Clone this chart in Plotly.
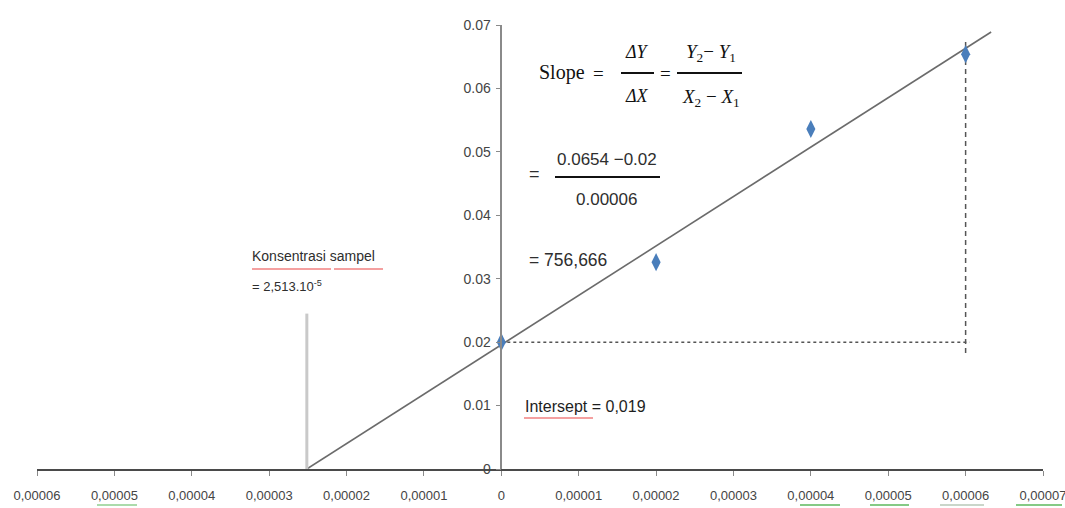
import plotly.graph_objects as go

# Calibration standards (concentration vs absorbance)
conc = [0.0, 0.00002, 0.00004, 0.00006]
absorb = [0.0200, 0.0326, 0.0536, 0.0654]

# Regression line, from the x-intercept (sample concentration) to the top right
fit_x = [-0.00002513, 0.0000633]
fit_y = [0.0, 0.0689]

# Sample concentration marker and guide levels
sample_conc = -0.00002513
sample_marker_top = 0.0245
guide_y_top = 0.0677
guide_y_bottom = 0.0183
guide_x_end = 0.0000605

# Axis ticks
x_ticks = [-0.00006, -0.00005, -0.00004, -0.00003, -0.00002, -0.00001, 0.0,
           0.00001, 0.00002, 0.00003, 0.00004, 0.00005, 0.00006, 0.00007]
x_labels = ["0,00006", "0,00005", "0,00004", "0,00003", "0,00002", "0,00001", "0",
            "0,00001", "0,00002", "0,00003", "0,00004", "0,00005", "0,00006", "0,00007"]
y_ticks = [0.0, 0.01, 0.02, 0.03, 0.04, 0.05, 0.06, 0.07]
y_labels = ["0", "0.01", "0.02", "0.03", "0.04", "0.05", "0.06", "0.07"]

W, H = 1065, 508
ML, MR, MT, MB = 37, 22, 25, 39
PW, PH = W - ML - MR, H - MT - MB


def fx(px):
    """Pixel column -> paper fraction."""
    return (px - ML) / PW


def fy(py):
    """Pixel row -> paper fraction."""
    return (H - MB - py) / PH


SANS = "Liberation Sans, Arial, sans-serif"
SERIF = "Liberation Serif, DejaVu Serif, serif"
INK = "#2e2e2e"

fig = go.Figure()

# regression line
fig.add_trace(go.Scatter(x=fit_x, y=fit_y, mode="lines",
                         line=dict(color="#6b6b6b", width=1.6), hoverinfo="skip"))

# sample concentration marker
fig.add_trace(go.Scatter(x=[sample_conc, sample_conc], y=[0, sample_marker_top], mode="lines",
                         line=dict(color="#c9c9c9", width=3), hoverinfo="skip"))

# dashed guides
fig.add_trace(go.Scatter(x=[conc[0], guide_x_end], y=[absorb[0], absorb[0]], mode="lines",
                         line=dict(color="#555555", width=1.5, dash="3px,3px"), hoverinfo="skip"))
fig.add_trace(go.Scatter(x=[conc[-1], conc[-1]], y=[guide_y_bottom, guide_y_top], mode="lines",
                         line=dict(color="#555555", width=1.5, dash="5px,4px"), hoverinfo="skip"))

# data points
fig.add_trace(go.Scatter(x=conc, y=absorb, mode="markers",
                         marker=dict(symbol="diamond-tall", size=13, color="#4a7ebb"),
                         cliponaxis=False))

annotations = []


def text(px, py, s, size, family=SANS, anchor="center", color=INK):
    annotations.append(dict(x=fx(px), y=fy(py), xref="paper", yref="paper", text=s,
                            showarrow=False, xanchor=anchor, yanchor="middle",
                            font=dict(family=family, size=size, color=color)))


# slope formula
text(537, 72, "Slope", 20, SERIF, "left", "#111111")
text(598, 73, "=", 19, SERIF, "center", "#111111")
text(637, 52, "<i>ΔY</i>", 18, SERIF, "center", "#111111")
text(637, 96, "<i>ΔX</i>", 18, SERIF, "center", "#111111")
text(665, 73, "=", 19, SERIF, "center", "#111111")
text(711, 53, "<i>Y</i><sub>2</sub>− <i>Y</i><sub>1</sub>", 19, SERIF, "center", "#111111")
text(711, 98, "<i>X</i><sub>2</sub> − <i>X</i><sub>1</sub>", 19, SERIF, "center", "#111111")

text(534, 174, "=", 18)
text(607, 159, "0.0654 −0.02", 17)
text(606, 199, "0.00006", 17)
text(527, 260, "= 756,666", 17.5, anchor="left")

text(250, 256, "Konsentrasi sampel", 14, anchor="left")
text(250, 286, "= 2,513.10<sup>-5</sup>", 13, anchor="left")
text(523, 406, "Intersept = 0,019", 16, anchor="left", color="#1e1e1e")

shapes = []


def hline(x0, x1, py, color, width):
    shapes.append(dict(type="line", xref="paper", yref="paper",
                       x0=fx(x0), x1=fx(x1), y0=fy(py), y1=fy(py),
                       line=dict(color=color, width=width)))


# fraction bars
hline(621, 654, 73, "#111111", 2)
hline(677, 742, 73, "#111111", 2)
hline(555, 660, 177, "#111111", 2)

# spell-check underlines
hline(252, 331, 269, "#f08080", 1.5)
hline(334, 383, 269, "#f08080", 1.5)
hline(524, 593, 418, "#f08080", 1.5)
hline(97, 137, 505, "#8fcf8f", 1.5)
hline(800, 840, 505, "#5cb85c", 1.5)
hline(870, 909, 505, "#5cb85c", 1.5)
hline(940, 984, 505, "#b8c8b8", 1.5)
hline(1016, 1062, 505, "#5cb85c", 1.5)

fig.update_layout(
    width=W, height=H,
    margin=dict(l=ML, r=MR, t=MT, b=MB, autoexpand=False),
    paper_bgcolor="white", plot_bgcolor="white",
    showlegend=False,
    annotations=annotations,
    shapes=shapes,
    xaxis=dict(range=[-0.00006, 0.00007], tickvals=x_ticks, ticktext=x_labels,
               showline=True, linecolor="#4a4a4a", linewidth=2,
               ticks="outside", ticklen=5, tickcolor="#8a8a8a",
               showgrid=False, zeroline=False, ticklabelstandoff=8,
               ticklabeloverflow="allow", automargin=False,
               tickfont=dict(family=SANS, size=13, color="#444444")),
    yaxis=dict(range=[0, 0.07], tickvals=y_ticks, ticktext=y_labels,
               anchor="free", position=6 / 13, automargin=False,
               showline=True, linecolor="#8a8a8a", linewidth=1.5,
               ticks="outside", ticklen=5, tickcolor="#8a8a8a",
               showgrid=False, zeroline=False, ticklabelstandoff=2,
               tickfont=dict(family=SANS, size=14, color="#444444")),
)

fig.write_html("out.html")
